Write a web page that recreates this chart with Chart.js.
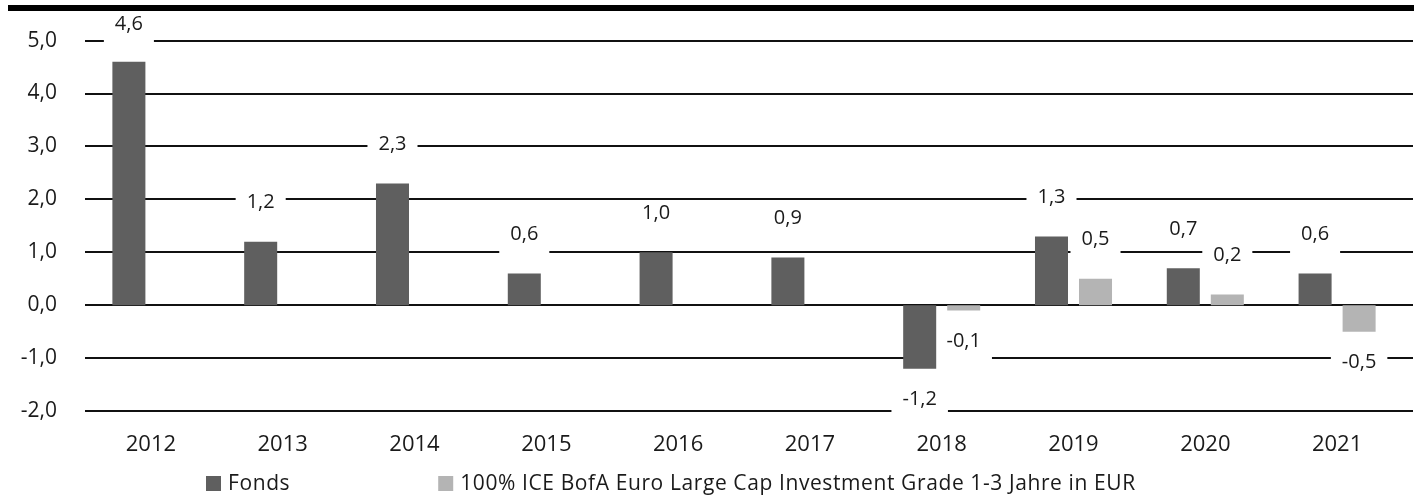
<!DOCTYPE html>
<html>
<head>
<meta charset="utf-8">
<script src="https://cdn.jsdelivr.net/npm/chart.js@4"></script>
<style>
  body { margin: 0; background: #fff; }
</style>
</head>
<body>
<canvas id="perfChart" width="1419" height="497"></canvas>
<script>
const years = ['2012', '2013', '2014', '2015', '2016', '2017', '2018', '2019', '2020', '2021'];
const fondsValues = [4.6, 1.2, 2.3, 0.6, 1.0, 0.9, -1.2, 1.3, 0.7, 0.6];
const benchValues = [null, null, null, null, null, null, -0.1, 0.5, 0.2, -0.5];
const seriesNames = ['Fonds', '100% ICE BofA Euro Large Cap Investment Grade 1-3 Jahre in EUR'];
const yMin = -2;
const yMax = 5;

const FONT = '"Open Sans", "Noto Sans", sans-serif';
const TEXT = '#1a1a1a';

const fmt = v => v.toFixed(1).replace('.', ',');

// where a value label sits: above positive bars, below negative ones
const labelY = (v, el) => v >= 0 ? Math.max(el.y - 39, 24) : el.y + 31;

// grid lines, white label boxes, value labels, top rule and legend
const decorations = {
    id: 'decorations',
    beforeDatasetsDraw(chart) {
        const ctx = chart.ctx;
        const y = chart.scales.y;
        ctx.save();
        ctx.strokeStyle = '#111';
        ctx.lineWidth = 2;
        y.ticks.forEach(t => {
            const py = Math.round(y.getPixelForValue(t.value));
            ctx.beginPath();
            ctx.moveTo(85, py);
            ctx.lineTo(1413, py);
            ctx.stroke();
        });
        // label boxes hide the grid lines under the numbers
        ctx.font = '20px ' + FONT;
        ctx.fillStyle = '#fff';
        chart.data.datasets.forEach((ds, i) => {
            chart.getDatasetMeta(i).data.forEach((el, j) => {
                const v = ds.data[j];
                if (v === null) return;
                const w = ctx.measureText(fmt(v)).width;
                const cy = labelY(v, el);
                ctx.fillRect(el.x - w / 2 - 11, cy - 13, w + 22, 32);
            });
        });
        ctx.restore();
    },
    afterDatasetsDraw(chart) {
        const ctx = chart.ctx;
        ctx.save();
        ctx.font = '20px ' + FONT;
        ctx.fillStyle = TEXT;
        ctx.textAlign = 'center';
        ctx.textBaseline = 'middle';
        chart.data.datasets.forEach((ds, i) => {
            chart.getDatasetMeta(i).data.forEach((el, j) => {
                const v = ds.data[j];
                if (v === null) return;
                ctx.fillText(fmt(v), el.x, labelY(v, el));
            });
        });
        ctx.restore();
    },
    afterDraw(chart) {
        const ctx = chart.ctx;
        ctx.save();
        ctx.fillStyle = '#000';
        ctx.fillRect(8, 5, 1406, 6);

        ctx.font = '21px ' + FONT;
        ctx.letterSpacing = '0.6px';
        ctx.textBaseline = 'middle';
        let x = 206;
        chart.data.datasets.forEach(ds => {
            ctx.fillStyle = ds.backgroundColor;
            ctx.fillRect(x, 476, 15, 15);
            ctx.fillStyle = TEXT;
            ctx.fillText(ds.label, x + 22, 484);
            x += 22 + ctx.measureText(ds.label).width + 148;
        });
        ctx.restore();
    }
};

new Chart(document.getElementById('perfChart'), {
    type: 'bar',
    data: {
        labels: years,
        datasets: [{
            label: seriesNames[0],
            data: fondsValues,
            backgroundColor: '#5f5f5f',
        }, {
            label: seriesNames[1],
            data: benchValues,
            backgroundColor: '#b4b4b4',
        }]
    },
    options: {
        responsive: false,
        animation: false,
        devicePixelRatio: 1,
        categoryPercentage: 0.668,
        barPercentage: 0.75,
        layout: {
            padding: { top: 37, right: 16, bottom: 0, left: 0 }
        },
        plugins: {
            legend: { display: false },
            tooltip: { enabled: false },
        },
        scales: {
            x: {
                grid: { display: false, drawTicks: false },
                border: { display: false },
                ticks: {
                    padding: 21,
                    color: TEXT,
                    font: { family: FONT, size: 22 },
                },
                afterFit(scale) { scale.height = 86; },
            },
            y: {
                min: yMin,
                max: yMax,
                grid: { display: false, drawTicks: false },
                border: { display: false },
                ticks: {
                    stepSize: 1,
                    padding: 28,
                    color: TEXT,
                    font: { family: FONT, size: 21 },
                    callback: v => fmt(v),
                },
                afterFit(scale) { scale.width = 85; },
            },
        },
    },
    plugins: [decorations],
});
</script>
</body>
</html>
